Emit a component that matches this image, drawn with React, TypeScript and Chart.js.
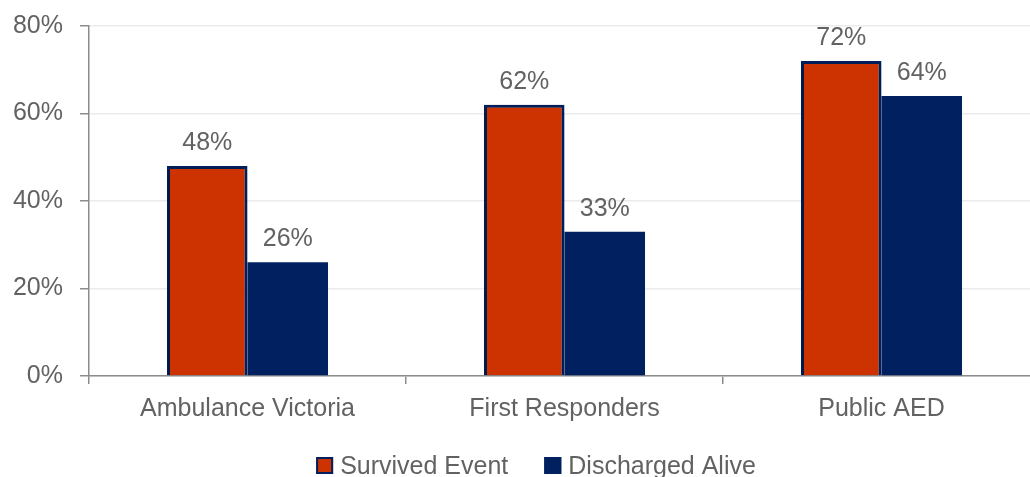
import React, { useEffect, useRef } from "react";
import { Chart, registerables } from "chart.js";

Chart.register(...registerables);

const categories = ["Ambulance Victoria", "First Responders", "Public AED"];
const survivedEvent = [48, 62, 72];
const dischargedAlive = [26, 33, 64];
const seriesNames = ["Survived Event", "Discharged Alive"];
const yTicks = [0, 20, 40, 60, 80];

const RED = "#CC3300";
const NAVY = "#002060";
const TEXT = "#626262";
const FONT = "'Liberation Sans', Arial, sans-serif";

// Percentage labels above each bar
const valueLabels = {
  id: "valueLabels",
  afterDatasetsDraw(chart: any) {
    const { ctx } = chart;
    ctx.save();
    ctx.font = `25px ${FONT}`;
    ctx.fillStyle = TEXT;
    ctx.textAlign = "center";
    ctx.textBaseline = "alphabetic";
    chart.data.datasets.forEach((ds: any, i: number) => {
      const meta = chart.getDatasetMeta(i);
      meta.data.forEach((bar: any, j: number) => {
        ctx.fillText(`${ds.data[j]}%`, bar.x, bar.y - 16);
      });
    });
    ctx.restore();
  },
};

// Soft drop shadow behind the first series
const barShadow = {
  id: "barShadow",
  beforeDatasetDraw(chart: any, args: any) {
    const { ctx } = chart;
    ctx.save();
    if (args.index === 0) {
      ctx.shadowColor = "rgba(0,0,0,0.35)";
      ctx.shadowBlur = 6;
      ctx.shadowOffsetX = -2;
      ctx.shadowOffsetY = 1;
    }
  },
  afterDatasetDraw(chart: any) {
    chart.ctx.restore();
  },
};

// Legend row drawn under the axis
const bottomLegend = {
  id: "bottomLegend",
  afterDraw(chart: any) {
    const { ctx } = chart;
    ctx.save();
    ctx.font = `25px ${FONT}`;
    const box = 17;
    const gapText = 7;
    const gapItem = 36;
    const widths = seriesNames.map((n) => ctx.measureText(n).width);
    const total =
      widths.reduce((a, b) => a + b, 0) + seriesNames.length * (box + gapText) + gapItem * (seriesNames.length - 1);
    let x = 536 - total / 2;
    const baseline = 474;
    const fills = [RED, NAVY];
    seriesNames.forEach((name, i) => {
      ctx.fillStyle = fills[i];
      ctx.fillRect(x, baseline - box, box, box);
      ctx.strokeStyle = NAVY;
      ctx.lineWidth = 2;
      ctx.strokeRect(x + 1, baseline - box + 1, box - 2, box - 2);
      ctx.fillStyle = TEXT;
      ctx.textAlign = "left";
      ctx.textBaseline = "alphabetic";
      ctx.fillText(name, x + box + gapText, baseline);
      x += box + gapText + widths[i] + gapItem;
    });
    ctx.restore();
  },
};

export default function App() {
  const ref = useRef<HTMLCanvasElement | null>(null);

  useEffect(() => {
    if (!ref.current) return;
    const chart = new Chart(ref.current, {
      type: "bar",
      data: {
        labels: categories,
        datasets: [
          {
            label: seriesNames[0],
            data: survivedEvent,
            backgroundColor: RED,
            borderColor: NAVY,
            borderWidth: 3,
            barPercentage: 1,
            categoryPercentage: 0.508,
          },
          {
            label: seriesNames[1],
            data: dischargedAlive,
            backgroundColor: NAVY,
            borderColor: NAVY,
            borderWidth: 0,
            barPercentage: 1,
            categoryPercentage: 0.508,
          },
        ],
      },
      options: {
        animation: false,
        responsive: false,
        maintainAspectRatio: false,
        layout: { padding: { top: 26, bottom: 40, left: 0, right: 0 } },
        plugins: {
          legend: { display: false },
          tooltip: { enabled: false },
        },
        scales: {
          x: {
            offset: true,
            grid: {
              offset: true,
              drawOnChartArea: false,
              drawTicks: true,
              tickLength: 8,
              tickColor: "#8c8c8c",
              lineWidth: 1.5,
            },
            border: { color: "#8c8c8c", width: 1.5 },
            ticks: {
              color: TEXT,
              font: { family: FONT, size: 25 },
              padding: 10,
            },
            afterFit(scale: any) {
              scale.height = 61;
              scale.paddingLeft = 0;
              scale.paddingRight = 0;
            },
          },
          y: {
            min: 0,
            max: 80,
            afterBuildTicks(scale: any) {
              scale.ticks = yTicks.map((v) => ({ value: v }));
            },
            grid: {
              color: "#ebebeb",
              lineWidth: 1.5,
              drawTicks: true,
              tickLength: 9,
              tickColor: "#8c8c8c",
            },
            border: { color: "#8c8c8c", width: 1.5 },
            ticks: {
              color: TEXT,
              font: { family: FONT, size: 25 },
              padding: 17,
              callback: (v: any) => `${v}%`,
            },
            afterFit(scale: any) {
              scale.width = 89;
              scale.paddingTop = 0;
              scale.paddingBottom = 0;
            },
          },
        },
      },
      plugins: [barShadow, valueLabels, bottomLegend],
    });
    return () => chart.destroy();
  }, []);

  return (
    <div
      style={{
        position: "fixed",
        left: 0,
        top: 0,
        width: 1030,
        height: 477,
        overflow: "hidden",
        background: "#fff",
      }}
    >
      <canvas ref={ref} width={1040} height={477} style={{ display: "block" }} />
    </div>
  );
}
